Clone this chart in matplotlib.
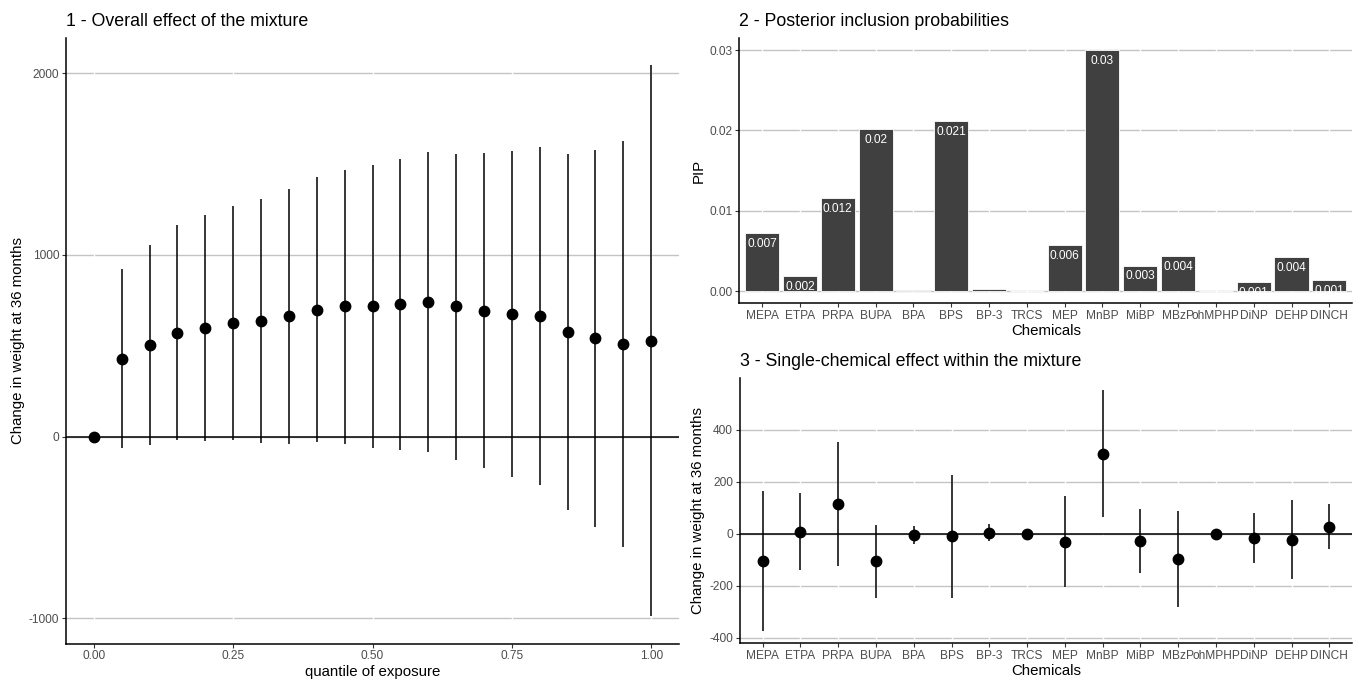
import numpy as np
import matplotlib
matplotlib.use("Agg")
import matplotlib.pyplot as plt

plt.rcParams['font.family'] = ['Liberation Sans', 'DejaVu Sans']
plt.rcParams['axes.unicode_minus'] = False

# panel 1 - overall mixture effect by quantile
quantiles = [0.00, 0.05, 0.10, 0.15, 0.20, 0.25, 0.30, 0.35, 0.40, 0.45, 0.50,
             0.55, 0.60, 0.65, 0.70, 0.75, 0.80, 0.85, 0.90, 0.95, 1.00]
mix_est = [0, 429, 504, 571, 596, 625, 637, 663, 698, 718, 716,
           727, 740, 716, 692, 674, 663, 575, 542, 511, 527]
mix_lo = [0, -60, -46, -20, -25, -18, -33, -38, -29, -38, -62,
          -73, -82, -128, -174, -220, -267, -404, -496, -606, -987]
mix_hi = [0, 920, 1055, 1163, 1220, 1268, 1308, 1363, 1427, 1469, 1493,
          1526, 1564, 1557, 1559, 1570, 1592, 1553, 1577, 1626, 2042]

# panel 2 / 3 - chemicals
chemicals = ['MEPA', 'ETPA', 'PRPA', 'BUPA', 'BPA', 'BPS', 'BP-3', 'TRCS',
             'MEP', 'MnBP', 'MiBP', 'MBzP', 'ohMPHP', 'DiNP', 'DEHP', 'DINCH']
pip = [0.0072, 0.0019, 0.0116, 0.0202, 0.0002, 0.0212, 0.0003, 0.0,
       0.0057, 0.0300, 0.0032, 0.0044, 0.0, 0.0011, 0.0042, 0.0014]
chem_est = [-104, 8, 116, -106, -4, -10, 4, 0, -32, 307, -27, -97, 0, -15, -22, 25]
chem_lo = [-375, -140, -122, -245, -38, -245, -29, -2, -204, 64, -149, -280, -2, -111, -175, -60]
chem_hi = [163, 158, 354, 33, 29, 228, 37, 2, 144, 552, 97, 88, 2, 80, 131, 113]

W, H = 1353, 679
TICK_FS = 8.6
AXT_FS = 10.8
TITLE_FS = 12.8
GRID_C = '#c4c4c4'


def px_axes(fig, left, top, right, bottom):
    return fig.add_axes([left / W, (H - bottom) / H, (right - left) / W, (bottom - top) / H])


def gg_style(ax, title):
    for s in ['top', 'right']:
        ax.spines[s].set_visible(False)
    for s in ['left', 'bottom']:
        ax.spines[s].set_linewidth(1.1)
        ax.spines[s].set_color('black')
    ax.tick_params(axis='both', length=3, width=0.8, color='#333333',
                   labelcolor='#4d4d4d', labelsize=TICK_FS, pad=2)
    ax.set_axisbelow(True)
    ax.yaxis.grid(True, color=GRID_C, linewidth=1.0, zorder=0.5)
    ax.set_title(title, loc='left', fontsize=TITLE_FS, pad=8.5)


def white_vgrid(ax):
    for xt in ax.get_xticks():
        ax.axvline(xt, color='white', linewidth=1.0, zorder=0.7)


fig = plt.figure(figsize=(W / 100, H / 100), dpi=100)

# ---- panel 1
ax1 = px_axes(fig, 66, 38, 679, 643.5)
gg_style(ax1, '1 - Overall effect of the mixture')
ax1.axhline(0, color='black', linewidth=1.1, zorder=1)
ax1.vlines(quantiles, mix_lo, mix_hi, color='black', linewidth=1.1, zorder=2)
ax1.plot(quantiles, mix_est, 'o', color='black', markersize=7.5, zorder=3)
ax1.set_xlim(-0.05, 1.05)
ax1.set_ylim(-1138, 2193)
ax1.set_xticks([0, 0.25, 0.5, 0.75, 1.0])
ax1.set_xticklabels(['0.00', '0.25', '0.50', '0.75', '1.00'])
ax1.set_yticks([-1000, 0, 1000, 2000])
white_vgrid(ax1)
ax1.set_xlabel('quantile of exposure', fontsize=AXT_FS, labelpad=2)
ax1.set_ylabel('Change in weight at 36 months', fontsize=AXT_FS, labelpad=3)

# ---- panel 2
xpos = np.arange(1, len(chemicals) + 1)
ax2 = px_axes(fig, 739.5, 38, 1352, 303.3)
gg_style(ax2, '2 - Posterior inclusion probabilities')
ax2.bar(xpos, pip, width=0.9, color='#404040', edgecolor='white', linewidth=0.6, zorder=1)
for x, v in zip(xpos, pip):
    ax2.annotate('%g' % round(v, 3), (x, v), xytext=(0, -3.5), textcoords='offset points',
                 ha='center', va='top', color='white', fontsize=TICK_FS,
                 zorder=2, clip_on=True)
ax2.set_xlim(0.4, len(chemicals) + 0.6)
ax2.set_ylim(-0.0015, 0.0315)
ax2.set_xticks(xpos)
ax2.set_xticklabels(chemicals)
ax2.set_yticks([0, 0.01, 0.02, 0.03])
ax2.set_yticklabels(['0.00', '0.01', '0.02', '0.03'])
white_vgrid(ax2)
ax2.set_xlabel('Chemicals', fontsize=AXT_FS, labelpad=1)
ax2.set_ylabel('PIP', fontsize=AXT_FS, labelpad=3)

# ---- panel 3
ax3 = px_axes(fig, 740, 378.3, 1352, 643.3)
gg_style(ax3, '3 - Single-chemical effect within the mixture')
ax3.axhline(0, color='black', linewidth=1.1, zorder=1)
ax3.vlines(xpos, chem_lo, chem_hi, color='black', linewidth=1.1, zorder=2)
ax3.plot(xpos, chem_est, 'o', color='black', markersize=7.5, zorder=3)
ax3.set_xlim(0.4, len(chemicals) + 0.6)
ax3.set_ylim(-421, 598)
ax3.set_xticks(xpos)
ax3.set_xticklabels(chemicals)
ax3.set_yticks([-400, -200, 0, 200, 400])
white_vgrid(ax3)
ax3.set_xlabel('Chemicals', fontsize=AXT_FS, labelpad=1)
ax3.set_ylabel('Change in weight at 36 months', fontsize=AXT_FS, labelpad=3)

fig.savefig('out.png', dpi=100)
